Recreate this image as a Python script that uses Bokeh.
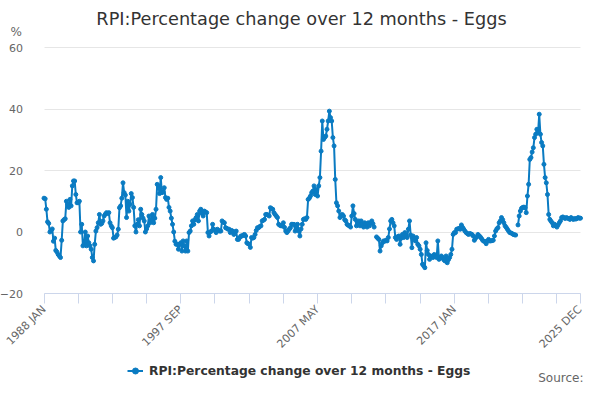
import math
from bokeh.plotting import figure
from bokeh.models import ColumnDataSource, Range1d, FixedTicker, Legend, LegendItem, Label, Grid
from bokeh.embed import file_html
from bokeh.resources import INLINE

NaN = float("nan")

# Monthly values, RPI eggs, % change over 12 months
y1988 = [11, 10.8, 7.4, 3.3, 2.8, 0, 0.5, 1, -3, -2, -6, -6.5]
y1989 = [-7.3, -7.8, -8.3, -2.7, 3.6, 4, 4.3, 10, 9, 8, 10.6, 8.5]
y1990 = [15, 16.6, 16.6, 12.2, 9.5, 9.5, 10, 0, 2.5, -4.5, -4, 0]
y1991 = [-4.5, -1.3, -3.5, -4.5, -5.6, -8.3, -9.4, -4, 0.3, 1.4, 3, 5.7]
y1992 = [2.5, 2.8, 3.6, 5.2, 5.8, 6.3, 6, 6.3, 3, 2, 1.4, -2]
y1993 = [-1.8, -1.6, -1, 0.9, 7.9, 8.5, 11, 16, 12.8, 12, 4.7, 10]
y1994 = [6.8, 9, 12.5, 11.2, 8, 2, 0, 2.5, 4, 2, 7.4, 5.7]
y1995 = [4.5, 3.6, 0, 1, 2, 5.2, 3, 4, 5.7, 3, 4.5, 7.4]
y1996 = [15.5, 15, 12.5, 17.7, 12.8, 13, 14.4, 11.2, 10.6, 11, 8, 6.8]
y1997 = [4.5, 2.5, 0, -3, -4, -4, -5.6, -4, -3.5, -6.2, -2.9, -4.5]
y1998 = [-6.2, -2.9, -6.2, -0.2, 0.3, 2, 3.6, 2.5, 4, 4.7, 5.7, 3.6]
y1999 = [6.8, 7.4, 6, 5.2, 6.8, 6.5, 6.3, -0.2, -1.3, 0, 0.3, 2.5]
y2000 = [0.9, 0.5, -0.2, 0.9, 0.5, 0.3, 0.3, 3.6, 3.2, 3, 1.4, 1.2]
y2001 = [0.9, 0.9, -0.2, 0.5, 0.3, -0.8, 0, 0.3, -2.4, -2.4, -1.8, -1.3]
y2002 = [-1.3, -1, -0.8, -1.3, -3.5, -3.8, -4, -5, -1.8, -2, -1.8, -0.8]
y2003 = [0.5, 1.4, 1.4, 1.8, 2, 3.6, 3.8, 4.1, 5.7, 5.7, 5.5, 5.2]
y2004 = [7.9, 7.6, 7.4, 6.3, 5.7, 5.2, 4.7, 2.5, 2.2, 2, 2, 3]
y2005 = [1.5, 0.3, -0.2, 0.3, 0.9, 1.4, 2.5, 2.5, 2.5, 0.3, 1.5, 2.5]
y2006 = [0.3, -1.3, 1, 2.5, 4.1, 4.3, 4.1, 4.7, 10.6, 11, 11.7, 12.8]
y2007 = [13.3, 15, 12.2, 13.9, 11.7, 15, 17.7, 26.3, 36.1, 30.1, 30.7, 31.2]
y2008 = [33.4, 36.1, 39.3, 37.2, 36.1, 30.7, 28, 17.1, 9.5, 8.5, 6.8, 4.7]
y2009 = [5.5, 5.7, 5.2, 4, 3.6, 2.5, 2.2, 2, 1.6, 5.2, 8.5, 6]
y2010 = [4.1, 2, 3, 3.6, 2, 3.6, 2.5, 1.6, 3, 2.5, 1.6, 3]
y2011 = [2, 3, 3.6, 2.7, 1.6, NaN, -1.6, -2, -2.4, -6.2, -4.5, -3.5]
y2012 = [-2.9, -3, -2.7, -2.9, -1.8, 1, 3.6, 4.1, 3, 2, -1.8, -2.4]
y2013 = [-1.5, -1.3, -4, -2, -0.8, -1.8, -0.2, -1, -1.8, 0.9, 3.6, -1]
y2014 = [-5.1, -1.3, -2, -2.9, -1.8, -4, -4.5, -5.6, -7.3, -10.5, -11, -11.6]
y2015 = [-3.5, -6, -7.3, -8.9, -7.8, -8, -8.3, -7.3, -8, -8.3, -2.9, -8.9]
y2016 = [-8.5, -7.8, -8.3, -9, -9.4, -7.8, -10, -9, -8.3, -7.3, -5.6, -0.8]
y2017 = [-0.2, -0.2, 0.9, 1, 1.2, 0.9, 2.3, 1.5, 0.9, 0.3, -0.2, -0.5]
y2018 = [-0.8, -0.5, -0.6, -0.8, -1.3, -2.7, -2, -1.6, -0.8, -1.2, -1.6, -2.1]
y2019 = [-2.7, -3, -3.1, -3.8, -3, -2.4, -2.9, -2.9, -2.8, -2.7, -1.3, 0.3]
y2020 = [1, 1.4, 3, 3.6, 4.7, 4, 3, 2, 1.5, 0.9, 0.3, -0.2]
y2021 = [-0.3, -0.5, -0.8, -0.9, -1, NaN, 2.3, 5.2, 6.8, 7.7, 8, 8.1]
y2022 = [7.9, 6.3, 11.7, 15.5, 23.6, 24.2, 26, 27.4, 30.7, 31.8, 33.4, 32.3]
y2023 = [38.3, 31.8, 29.1, 28, 22, 17.7, 16, 12.2, 5.7, 4.1, 3.5, 3]
y2024 = [2, 2.5, 2, 1.6, 2.3, 3, 3.6, 4.7, 4.9, 4.6, 4.4, 4.7]
y2025 = [4.5, 4.4, 4.1, 4.7, 4.3, 4.1, 4.4, 4.2, 4.4, 4.7, 4.5, 4.5]

values = (y1988 + y1989 + y1990 + y1991 + y1992 + y1993 + y1994 + y1995 + y1996
          + y1997 + y1998 + y1999 + y2000 + y2001 + y2002 + y2003 + y2004 + y2005
          + y2006 + y2007 + y2008 + y2009 + y2010 + y2011 + y2012 + y2013 + y2014
          + y2015 + y2016 + y2017 + y2018 + y2019 + y2020 + y2021 + y2022 + y2023
          + y2024 + y2025)
months = list(range(len(values)))

tick_step = 29
x_ticks = list(range(0, len(values), tick_step)) + [len(values) - 1]
x_tick_labels = {0: "1988 JAN", 116: "1997 SEP", 232: "2007 MAY", 348: "2017 JAN", 455: "2025 DEC"}
y_ticks = [-20, 0, 20, 40, 60]
y_min, y_max = -20, 60

title_text = "RPI:Percentage change over 12 months - Eggs"
series_name = "RPI:Percentage change over 12 months - Eggs"
FONT = "DejaVu Sans"
LINE_COLOR = "#0a7bc2"

# ---- geometry (canvas pixels) ----
W, H = 584, 384
PLOT_LEFT, PLOT_RIGHT = 43.5, 580.0      # first / last month
PLOT_TOP, PLOT_BOTTOM = 47.0, 293.0      # y_max / y_min
n_last = len(values) - 1
ppx = (PLOT_RIGHT - PLOT_LEFT) / n_last            # px per month
ppy = (PLOT_BOTTOM - PLOT_TOP) / (y_max - y_min)   # px per unit


def dx(px):
    return (px - PLOT_LEFT) / ppx


def dy(py):
    return y_max - (py - PLOT_TOP) / ppy


src = ColumnDataSource(data=dict(x=months, y=values))

p = figure(width=W, height=H, output_backend="svg", toolbar_location=None,
           x_range=Range1d(dx(0), dx(W)), y_range=Range1d(dy(H), dy(0)),
           min_border_left=0, min_border_right=0, min_border_top=0, min_border_bottom=0)
p.outline_line_color = None
p.background_fill_color = "white"
p.border_fill_color = "white"

# grid lines only across the plot area
p.xgrid.grid_line_color = None
p.ygrid.ticker = FixedTicker(ticks=y_ticks)
p.ygrid.grid_line_color = "#e6e6e6"
if "cross_bounds" in Grid.properties():
    p.ygrid.cross_bounds = (0, n_last)
else:
    p.ygrid.grid_line_color = None
    p.segment(x0=[0] * len(y_ticks), x1=[n_last] * len(y_ticks), y0=y_ticks, y1=y_ticks,
              line_color="#e6e6e6", line_width=1, level="underlay")

ln = p.line("x", "y", source=src, line_color=LINE_COLOR, line_width=2)
sc = p.scatter("x", "y", source=src, size=4, fill_color=LINE_COLOR, line_color=LINE_COLOR)

# x axis, drawn at the bottom of the value range
xa = p.xaxis[0]
xa.fixed_location = y_min
xa.bounds = (0, n_last)
xa.ticker = FixedTicker(ticks=x_ticks)
xa.major_label_overrides = {t: x_tick_labels.get(t, "") for t in x_ticks}
xa.major_label_orientation = math.pi / 4
xa.axis_line_color = "#ccd6eb"
xa.major_tick_line_color = "#ccd6eb"
xa.major_tick_out = 10
xa.major_tick_in = 0
xa.minor_tick_line_color = None
xa.major_label_text_font = FONT
xa.major_label_text_font_size = "11px"
xa.major_label_text_color = "#666666"
xa.major_label_standoff = 4

# y axis, drawn at the first month
ya = p.yaxis[0]
ya.fixed_location = 0
ya.bounds = (y_min, y_max)
ya.ticker = FixedTicker(ticks=y_ticks)
ya.axis_line_color = None
ya.major_tick_line_color = None
ya.minor_tick_line_color = None
ya.major_label_text_font = FONT
ya.major_label_text_font_size = "11px"
ya.major_label_text_color = "#666666"
ya.major_label_standoff = 15

# texts
p.add_layout(Label(x=dx(301), y=dy(18), text=title_text, text_align="center",
                   text_baseline="middle", text_font=FONT, text_font_size="17.7px",
                   text_color="#333333"))
p.add_layout(Label(x=dx(10), y=dy(31), text="%", text_align="left",
                   text_baseline="middle", text_font=FONT, text_font_size="12px",
                   text_color="#666666"))
p.add_layout(Label(x=dx(583), y=dy(377), text="Source:", text_align="right",
                   text_baseline="middle", text_font=FONT, text_font_size="12px",
                   text_color="#666666"))

legend = Legend(items=[LegendItem(label=series_name, renderers=[ln, sc])],
                location=(127, 6), orientation="horizontal",
                padding=0, margin=0, glyph_width=16, glyph_height=15, label_standoff=6,
                label_text_font=FONT, label_text_font_size="12.3px",
                label_text_font_style="bold", label_text_color="#333333",
                border_line_color=None, background_fill_alpha=0)
p.add_layout(legend, "center")

open("out.html", "w").write(file_html(p, INLINE))
